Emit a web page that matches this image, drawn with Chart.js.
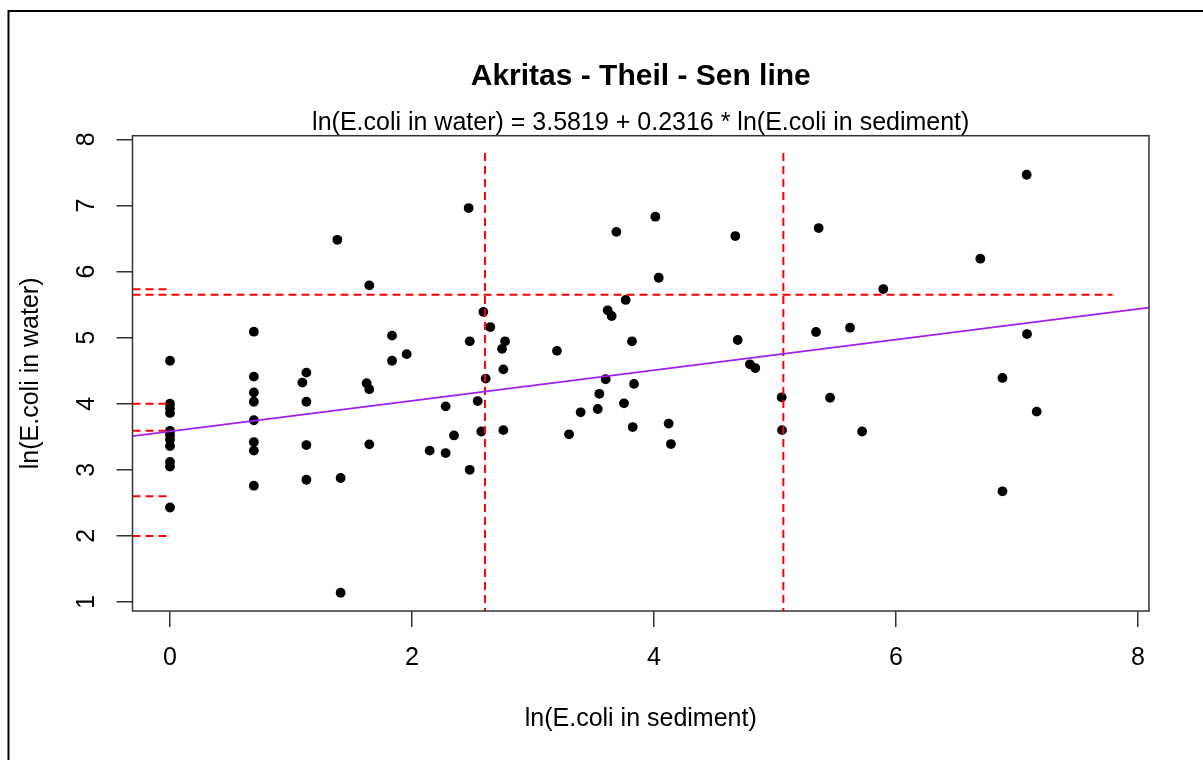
<!DOCTYPE html>
<html>
<head>
<meta charset="utf-8">
<title>Akritas - Theil - Sen line</title>
<script src="https://cdn.jsdelivr.net/npm/chart.js@4.4.1/dist/chart.umd.min.js"></script>
<style>
  html, body { margin: 0; padding: 0; background: #fff; }
  #wrap { width: 1203px; height: 760px; }
</style>
</head>
<body>
<div id="wrap"><canvas id="chart" width="1203" height="760"></canvas></div>
<script>
// Akritas-Theil-Sen plot, ln(E.coli) sediment vs water

const FONT = "'Liberation Sans', Arial, sans-serif";

const sedimentX = [
  0, 0, 0, 0, 0, 0, 0, 0, 0, 0, 0,
  0.693, 0.693, 0.693, 0.693, 0.693, 0.693, 0.693, 0.693,
  1.094, 1.127, 1.127, 1.127, 1.127, 1.383, 1.41, 1.41,
  1.625, 1.647, 1.647, 1.647, 1.835, 1.835, 1.956,
  2.146, 2.278, 2.278, 2.347, 2.468, 2.477, 2.477, 2.543, 2.573, 2.59, 2.609, 2.647,
  2.744, 2.755, 2.755, 2.769,
  3.198, 3.298, 3.394, 3.535, 3.548, 3.601, 3.617, 3.65, 3.689, 3.752, 3.766,
  3.818, 3.824, 3.835,
  4.011, 4.039, 4.121, 4.14, 4.672, 4.692, 4.793, 4.837,
  5.055, 5.058, 5.339, 5.361, 5.455, 5.62, 5.72, 5.895,
  6.697, 6.88, 6.88, 7.08, 7.083, 7.163
];
const waterY = [
  4.65, 4.0, 3.93, 3.86, 3.59, 3.53, 3.46, 3.36, 3.12, 3.05, 2.43,
  5.09, 4.41, 4.17, 4.03, 3.75, 3.42, 3.29, 2.76,
  4.32, 4.47, 4.03, 3.375, 2.85, 6.48, 2.876, 1.14,
  4.31, 5.79, 4.22, 3.385, 5.03, 4.65, 4.75,
  3.29, 3.96, 3.254, 3.52, 6.96, 4.944, 3.0, 4.04, 3.58, 5.39, 4.38, 5.16,
  4.83, 4.52, 3.60, 4.944,
  4.80, 3.537, 3.87, 3.92, 4.15, 4.37, 5.413, 5.327, 6.60, 4.006, 5.57,
  4.944, 3.647, 4.30,
  6.83, 5.906, 3.70, 3.39, 6.537, 4.964, 4.596, 4.54,
  4.097, 3.60, 5.085, 6.658, 4.09, 5.15, 3.58, 5.735,
  6.194, 4.39, 2.675, 7.464, 5.054, 3.88
];

// fitted line: ln(water) = 3.5819 + 0.2316 * ln(sediment), ends at the plot edges
const fitX = [-0.31, 8.09];
const fitY = [3.51, 5.455];

// red dashed guide lines
const vLinesX = [2.603, 5.069];
const vLineY = [0, 7.797];
const hLineY = 5.649;
const hLineX = [-0.31, 7.79];
const censorY = [5.73, 4.0, 3.59, 2.6, 2.0];
const censorX = [-0.31, 0];

const xTicks = [0, 2, 4, 6, 8];
const yTicks = [1, 2, 3, 4, 5, 6, 7, 8];
const X_MIN = -0.31, X_MAX = 8.091;
const Y_MIN = 0.864, Y_MAX = 8.055;

const RED = '#ff0000';
const dashed = pts => ({
  type: 'line', data: pts, showLine: true, borderColor: RED, borderWidth: 2,
  borderDash: [8, 5], pointRadius: 0, fill: false, order: 1
});

const datasets = [
  {
    type: 'line',
    data: fitX.map((x, i) => ({ x, y: fitY[i] })),
    showLine: true, borderColor: '#a020f0', borderWidth: 1.8,
    pointRadius: 0, fill: false, order: 0
  },
  ...vLinesX.map(x => dashed(vLineY.map(y => ({ x, y })))),
  dashed(hLineX.map(x => ({ x, y: hLineY }))),
  ...censorY.map(y => dashed(censorX.map(x => ({ x, y })))),
  {
    type: 'scatter',
    data: sedimentX.map((x, i) => ({ x, y: waterY[i] })),
    backgroundColor: '#000', borderWidth: 0, pointRadius: 4.9,
    pointHoverRadius: 4.9, order: 10
  }
];

const framePlugin = {
  id: 'frame',
  beforeDraw(chart) {
    const c = chart.ctx;
    c.save();
    c.fillStyle = '#fff';
    c.fillRect(0, 0, chart.width, chart.height);
    c.strokeStyle = '#000';
    c.lineWidth = 2;
    c.strokeRect(8.5, 11, chart.width + 20, chart.height + 20);
    c.restore();
  },
  afterDraw(chart) {
    const { left, top, right, bottom } = chart.chartArea;
    const c = chart.ctx;
    c.save();
    c.strokeStyle = '#333';
    c.lineWidth = 1.5;
    c.strokeRect(left, top, right - left, bottom - top);
    c.restore();
  }
};

const tickFont = { family: FONT, size: 25, lineHeight: 1.2 };

new Chart(document.getElementById('chart'), {
  type: 'scatter',
  data: { datasets },
  options: {
    responsive: false,
    animation: false,
    events: [],
    layout: { padding: { left: 0, right: 54, top: 0, bottom: 0 } },
    plugins: {
      legend: { display: false },
      tooltip: { enabled: false },
      title: {
        display: true, fullSize: false,
        text: 'Akritas - Theil - Sen line',
        color: '#000',
        font: { family: FONT, size: 30, weight: 'bold', lineHeight: 1.2 },
        padding: { top: 59, bottom: 0 }
      },
      subtitle: {
        display: true, fullSize: false,
        text: 'ln(E.coli in water) = 3.5819 + 0.2316 * ln(E.coli in sediment)',
        color: '#000',
        font: { family: FONT, size: 25, lineHeight: 1.0 },
        padding: { top: 15.5, bottom: 0.2 }
      }
    },
    scales: {
      x: {
        type: 'linear', min: X_MIN, max: X_MAX,
        afterBuildTicks: s => { s.ticks = xTicks.map(v => ({ value: v })); },
        afterFit: s => { s.height = 149; },
        grid: { drawOnChartArea: false, drawTicks: true, tickLength: 16, color: '#333', lineWidth: 1.5 },
        border: { display: false },
        ticks: { color: '#000', font: tickFont, padding: 16, maxRotation: 0 },
        title: {
          display: true, text: 'ln(E.coli in sediment)', color: '#000',
          font: tickFont, padding: { top: 0, bottom: 26 }
        }
      },
      y: {
        type: 'linear', min: Y_MIN, max: Y_MAX,
        afterBuildTicks: s => { s.ticks = yTicks.map(v => ({ value: v })); },
        afterFit: s => { s.width = 132.5; },
        grid: { drawOnChartArea: false, drawTicks: true, tickLength: 16, color: '#333', lineWidth: 1.5 },
        border: { display: false },
        ticks: {
          color: '#000', font: tickFont, padding: 22,
          minRotation: 90, maxRotation: 90, crossAlign: 'center'
        },
        title: {
          display: true, text: 'ln(E.coli in water)', color: '#000',
          font: tickFont, padding: { top: 16, bottom: 0 }
        }
      }
    }
  },
  plugins: [framePlugin]
});
</script>
</body>
</html>
